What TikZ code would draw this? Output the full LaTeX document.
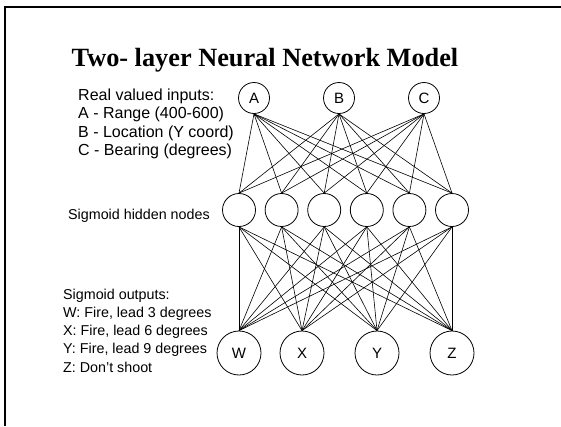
\documentclass[tikz,border=0pt]{standalone}
\usepackage{fontspec}
\setmainfont{Liberation Sans}
\newfontfamily\titlefont{Liberation Serif}
\usetikzlibrary{positioning}

\begin{document}
\begin{tikzpicture}[x=1pt,y=-1pt,
    neuron/.style={draw,circle,inner sep=0pt,line width=0.8pt},
    innode/.style={neuron,minimum size=31pt},
    hidnode/.style={neuron,minimum size=33pt},
    outnode/.style={neuron,minimum size=44pt},
    lbl/.style={inner sep=0pt,align=left,anchor=west},
    wire/.style={line width=0.6pt}]
    \useasboundingbox (0,0) rectangle (561,426);
    % frame of the slide
    \draw[line width=2.2pt] (4.8,426) -- (4.8,7) -- (561,7);
    \node[font=\titlefont\bfseries\fontsize{26.3}{30}\selectfont] (title) at (265,60) {Two- layer Neural Network Model};

    % input layer
    \foreach \n/\x in {A/254,B/339,C/424}
    \node[innode,font=\fontsize{15}{18}\selectfont] (\n) at (\x,98) {\n};
    % hidden layer
    \foreach \i/\x in {1/239,2/281.6,3/324.2,4/366.8,5/409.4,6/452}
    \node[hidnode] (h\i) at (\x,210) {};
    % output layer
    \foreach \n/\x in {W/239,X/302,Y/377,Z/452}
    \node[outnode,font=\fontsize{15}{18}\selectfont] (\n) at (\x,353) {\n};

    % connections
    \foreach \a in {A,B,C}
    \foreach \i in {1,...,6}
    \draw[wire] (\a.south) -- (h\i.north);
    \foreach \i in {1,...,6}
    \foreach \b in {W,X,Y,Z}
    \draw[wire] (h\i.south) -- (\b.north);

    % labels
    \node[lbl,font=\fontsize{16}{18.5}\selectfont] (inlbl) at (78,124) {Real valued inputs:\\A - Range (400-600)\\B - Location (Y coord)\\C - Bearing (degrees)};
    \node[lbl,font=\fontsize{14.3}{18.3}\selectfont] (hidlbl) at (68,216) {Sigmoid hidden nodes};
    \node[lbl,font=\fontsize{14.3}{18.3}\selectfont] (outlbl) at (63,330.5) {Sigmoid outputs:\\W: Fire, lead 3 degrees\\X: Fire, lead 6 degrees\\Y: Fire, lead 9 degrees\\Z: Don't shoot};
\end{tikzpicture}
\end{document}
